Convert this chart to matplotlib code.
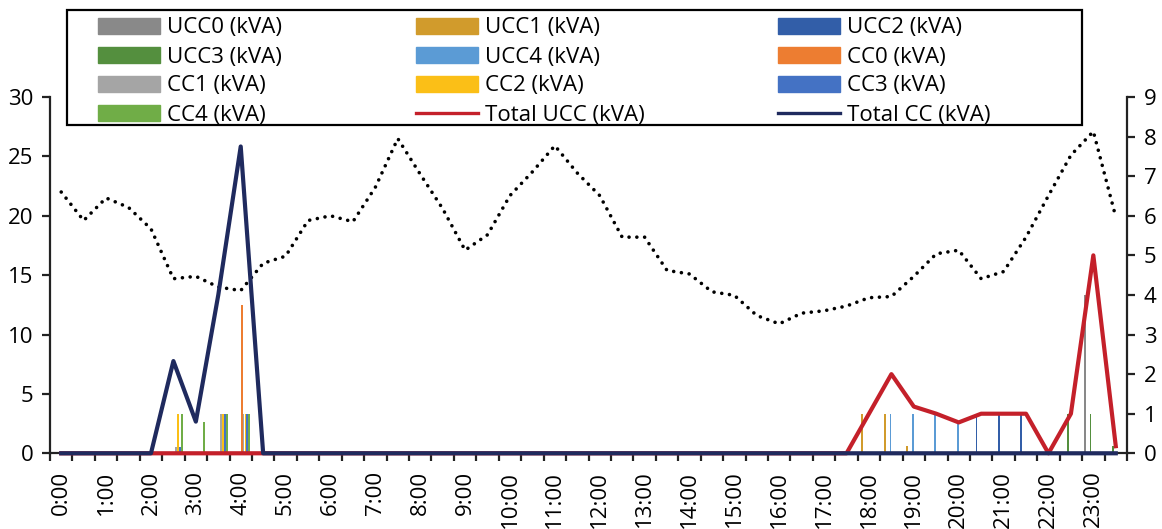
import matplotlib
matplotlib.use("Agg")
import matplotlib.pyplot as plt
from matplotlib.lines import Line2D
from matplotlib.patches import Rectangle
import numpy as np

plt.rcParams['font.family'] = ['Open Sans', 'DejaVu Sans']

# ---------------- DATA ----------------
times = ["0:00", "0:30", "1:00", "1:30", "2:00", "2:30", "3:00", "3:30",
         "4:00", "4:30", "5:00", "5:30", "6:00", "6:30", "7:00", "7:30",
         "8:00", "8:30", "9:00", "9:30", "10:00", "10:30", "11:00", "11:30",
         "12:00", "12:30", "13:00", "13:30", "14:00", "14:30", "15:00", "15:30",
         "16:00", "16:30", "17:00", "17:30", "18:00", "18:30", "19:00", "19:30",
         "20:00", "20:30", "21:00", "21:30", "22:00", "22:30", "23:00", "23:30"]

# bar series (kVA, right axis)
ucc0 = [0]*46 + [4.0, 0]
ucc1 = [0]*36 + [1.0, 1.0, 0.18] + [0]*9
ucc2 = [0]*41 + [1.0, 1.0, 1.0] + [0]*4
ucc3 = [0]*45 + [1.0, 1.0, 0.18]
ucc4 = [0]*37 + [1.0, 1.0, 1.0, 0.78] + [0]*7
cc0 = [0]*8 + [3.75] + [0]*39
cc1 = [0]*5 + [0.17, 0, 1.0, 1.0] + [0]*39
cc2 = [0]*5 + [1.0, 0, 1.0, 1.0] + [0]*39
cc3 = [0]*5 + [0.17, 0, 1.0, 1.0] + [0]*39
cc4 = [0]*5 + [1.0, 0.8, 1.0, 1.0] + [0]*39

# totals (kVA, right axis)
total_ucc = [0]*36 + [1.0, 2.0, 1.18, 1.0, 0.78, 1.0, 1.0, 1.0, 0.0, 1.0, 5.0, 0.18]
total_cc = [0]*5 + [2.33, 0.8, 4.0, 7.75] + [0]*39

# dotted profile (left axis)
profile = [22.0, 19.6, 21.5, 20.7, 18.9, 14.7, 14.9, 14.0, 13.7, 16.0, 16.6, 19.6,
           20.0, 19.5, 22.4, 26.5, 23.5, 20.6, 17.1, 18.4, 21.7, 23.7, 25.9, 23.6,
           21.7, 18.2, 18.2, 15.4, 15.1, 13.6, 13.3, 11.6, 10.9, 11.8, 12.0, 12.4,
           13.1, 13.2, 14.9, 16.8, 17.1, 14.7, 15.3, 18.2, 21.7, 25.1, 27.1, 19.9]

bar_names = ["UCC0 (kVA)", "UCC1 (kVA)", "UCC2 (kVA)", "UCC3 (kVA)", "UCC4 (kVA)",
             "CC0 (kVA)", "CC1 (kVA)", "CC2 (kVA)", "CC3 (kVA)", "CC4 (kVA)"]
bar_series = [ucc0, ucc1, ucc2, ucc3, ucc4, cc0, cc1, cc2, cc3, cc4]
bar_colors = ["#898989", "#D19B2C", "#325EA8", "#548F3E", "#5B9BD5",
              "#ED7D31", "#A5A5A5", "#FBBF17", "#4472C4", "#70AD47"]
left_ticks = [0, 5, 10, 15, 20, 25, 30]
right_ticks = [0, 1, 2, 3, 4, 5, 6, 7, 8, 9]

# ---------------- PLOT ----------------
W, H = 1162, 529
fig = plt.figure(figsize=(W / 100, H / 100), dpi=100)
x0, x1, ybot, ytop = 50, 1127, 453.3, 97
ax = fig.add_axes([x0 / W, (H - ybot) / H, (x1 - x0) / W, (ybot - ytop) / H])
ax2 = ax.twinx()

x = np.arange(len(times))
slot = 0.084
bw = 0.08
for k, (vals, col) in enumerate(zip(bar_series, bar_colors)):
    ax2.bar(x + (k - 4.5) * slot, vals, width=bw, color=col, linewidth=0, zorder=2)

ax2.plot(x, total_ucc, color="#C4202A", lw=3.0, zorder=3, clip_on=False)
ax2.plot(x, total_cc, color="#1F2A5E", lw=3.0, zorder=4, clip_on=False)

ax.plot(x, profile, color="black", lw=2.6, linestyle=(0, (0.01, 2.15)),
        dash_capstyle='round', zorder=3)

ax.set_xlim(-0.5, len(times) - 0.5)
ax.set_ylim(0, 30)
ax2.set_ylim(0, 9)
ax.set_yticks(left_ticks)
ax2.set_yticks(right_ticks)

ax.set_xticks(x[::2])
ax.set_xticklabels(times[::2], rotation=90)
ax.set_xticks(np.arange(-0.5, len(times), 1.0), minor=True)
ax.tick_params(axis='x', which='major', length=0, pad=12.5, labelsize=16)
ax.tick_params(axis='x', which='minor', length=6, width=1.6, color='#222222')
ax.tick_params(axis='y', length=6, width=1.6, pad=6, labelsize=16, color='#222222')
ax2.tick_params(axis='y', length=6, width=1.6, pad=6, labelsize=16, color='#222222')

for a in (ax, ax2):
    a.spines['top'].set_visible(False)
ax.spines['right'].set_visible(False)
ax.spines['bottom'].set_visible(False)
ax2.spines['left'].set_visible(False)
for s in (ax.spines['left'], ax2.spines['bottom'], ax2.spines['right']):
    s.set_linewidth(1.6)
    s.set_color('#222222')

# ---------------- LEGEND ----------------
lx0, lx1, ly0, ly1 = 67, 1082, 10, 125
frame = Rectangle((lx0 / W, (H - ly1) / H), (lx1 - lx0) / W, (ly1 - ly0) / H,
                  transform=fig.transFigure, facecolor='white', edgecolor='black',
                  linewidth=1.6, zorder=10)
fig.patches.append(frame)

patches = [Rectangle((0, 0), 1, 1, color=c) for c in bar_colors]
line_ucc = Line2D([], [], color="#C4202A", lw=2.4)
line_cc = Line2D([], [], color="#1F2A5E", lw=2.4)
handles_rm = patches + [line_ucc, line_cc]
labels_rm = bar_names + ["Total UCC (kVA)", "Total CC (kVA)"]
order = [0, 3, 6, 9, 1, 4, 7, 10, 2, 5, 8, 11]
leg = fig.legend([handles_rm[i] for i in order], [labels_rm[i] for i in order],
                 ncol=3, loc='upper left', bbox_to_anchor=(98 / W, (H - 17.5) / H),
                 frameon=False, fontsize=16, handlelength=2.8, handleheight=0.7,
                 handletextpad=0.32, columnspacing=6.0, labelspacing=0.36,
                 borderpad=0, borderaxespad=0)
leg.set_zorder(11)

fig.savefig("out.png", dpi=100)
